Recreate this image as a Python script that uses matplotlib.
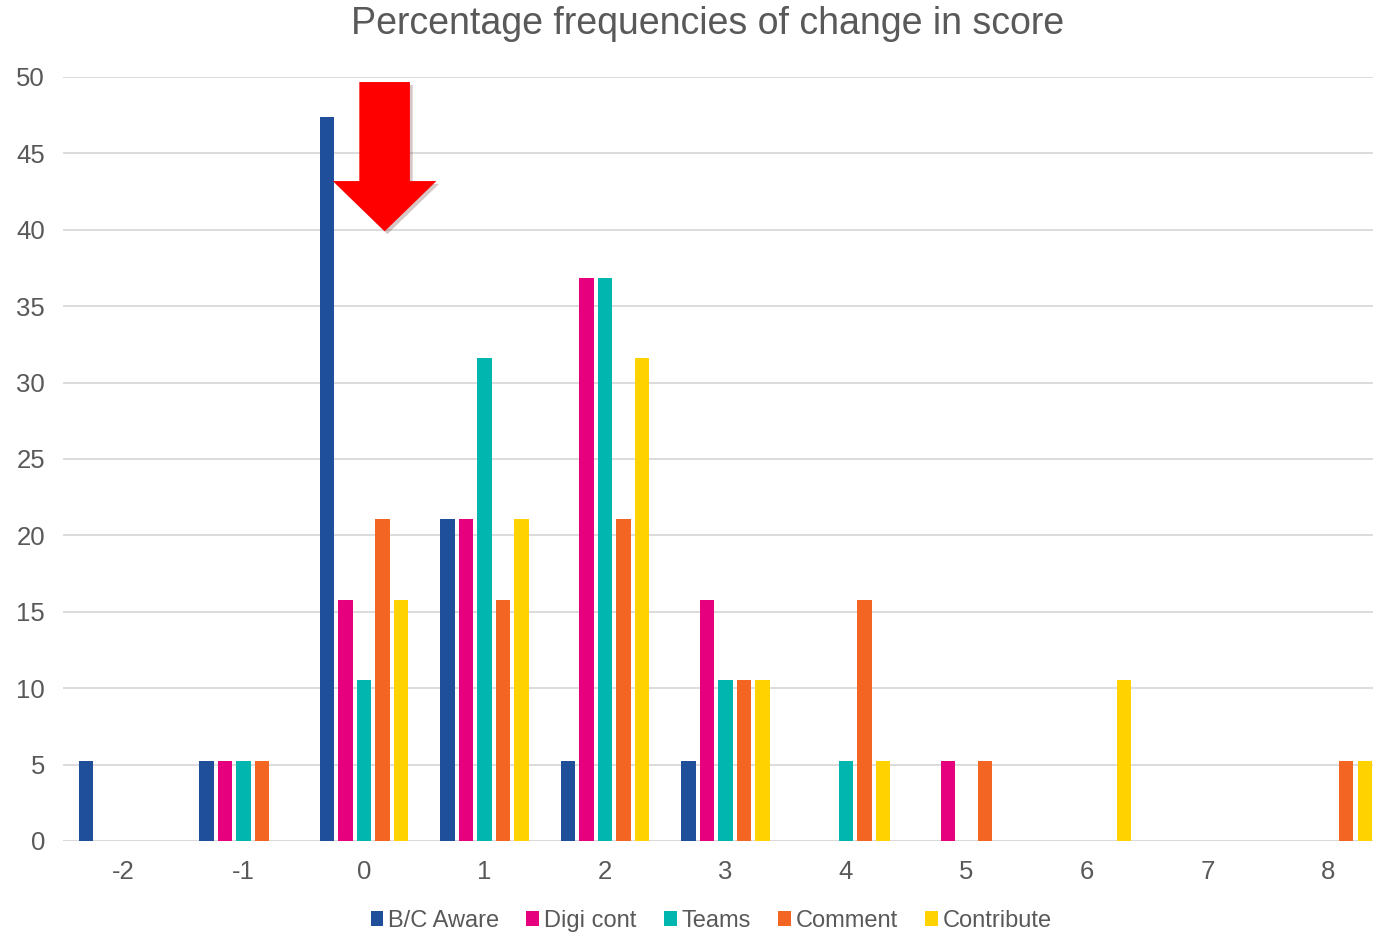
import numpy as np
import matplotlib.pyplot as plt
from matplotlib.patches import Polygon
import matplotlib.patheffects as pe

plt.rcParams['font.family'] = ['Liberation Sans', 'DejaVu Sans']

# change in score categories
change = [-2, -1, 0, 1, 2, 3, 4, 5, 6, 7, 8]
series = ['B/C Aware', 'Digi cont', 'Teams', 'Comment', 'Contribute']
bc_aware   = [5.26, 5.26, 47.37, 21.05, 5.26, 5.26, 0, 0, 0, 0, 0]
digi_cont  = [0, 5.26, 15.79, 21.05, 36.84, 15.79, 0, 5.26, 0, 0, 0]
teams      = [0, 5.26, 10.53, 31.58, 36.84, 10.53, 5.26, 0, 0, 0, 0]
comment    = [0, 5.26, 21.05, 15.79, 21.05, 10.53, 15.79, 5.26, 0, 0, 5.26]
contribute = [0, 0, 15.79, 21.05, 31.58, 10.53, 5.26, 0, 10.53, 0, 5.26]
colors = ['#1F4E9B', '#E6007E', '#00B6AE', '#F26522', '#FFD200']

fig = plt.figure(figsize=(13.73, 9.33), dpi=100)
ax = fig.add_axes([63/1373, 92/933, 1325/1373, 764/933])

x = np.arange(len(change))
step = 0.1535
bw = 0.12
for i, (name, vals) in enumerate(zip(series, [bc_aware, digi_cont, teams, comment, contribute])):
    ax.bar(x + (i - 2) * step, vals, width=bw, color=colors[i], label=name, zorder=3)

ax.set_xlim(-0.5, len(change) - 0.5)
ax.set_ylim(0, 50)
ax.set_yticks(range(0, 51, 5))
ax.set_xticks(x, [str(c) for c in change])
ax.yaxis.grid(True, color='#d9d9d9', linewidth=1.3, zorder=0)
for s in ax.spines.values():
    s.set_visible(False)
ax.axhline(0, color='#d9d9d9', linewidth=1.5, zorder=1)
ax.tick_params(axis='both', length=0, labelsize=18.5, labelcolor='#595959')
ax.tick_params(axis='x', pad=14)
ax.tick_params(axis='y', pad=13)

# down arrow pointing at the zero-change group
arrow = np.array([[1.96, 49.67], [2.38, 49.67], [2.38, 43.19], [2.60, 43.19],
                  [2.17, 39.9], [1.74, 43.19], [1.96, 43.19]])
ax.add_patch(Polygon(arrow, closed=True, facecolor='#FF0000', edgecolor='none', zorder=5,
                     path_effects=[pe.SimplePatchShadow(offset=(2, -2), alpha=0.22), pe.Normal()]))

fig.text(0.5155, 0.974, 'Percentage frequencies of change in score', ha='center', va='center',
         fontsize=27, color='#595959')
fig.legend(loc='center', bbox_to_anchor=(0.518, 0.013), ncol=5, frameon=False, fontsize=17,
           labelcolor='#595959', handlelength=0.55, handleheight=0.55, handletextpad=0.2,
           columnspacing=1.15)

fig.savefig('out.png', dpi=100)
